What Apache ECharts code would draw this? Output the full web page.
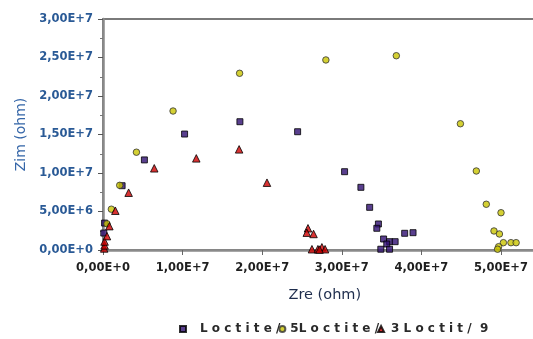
<!DOCTYPE html>
<html>
<head>
<meta charset="utf-8">
<script src="https://cdn.jsdelivr.net/npm/echarts@6/dist/echarts.min.js"></script>
<style>
  html, body { margin: 0; padding: 0; background: #ffffff; }
  #chart { width: 533px; height: 339px; }
</style>
</head>
<body>
<div id="chart"></div>
<script>
// Legend captions, as printed under the plot
const legendNames = ['L o c t i t e /', '5L o c t i t e /', '3 L o c t i t /  9'];

// Nyquist points [Zre, Zim] in ohm
const loctiteA = [
  [1.0e5, 2.2e6], [2.0e5, 3.5e6], [2.4e6, 8.35e6], [5.2e6, 1.17e7],
  [1.025e7, 1.506e7], [1.72e7, 1.666e7], [2.445e7, 1.536e7], [3.035e7, 1.017e7],
  [3.24e7, 8.14e6], [3.35e7, 5.54e6], [3.46e7, 3.38e6], [3.44e7, 2.82e6],
  [3.525e7, 1.43e6], [3.6e7, 1.08e6], [3.67e7, 1.08e6], [3.565e7, 7.8e5],
  [3.49e7, 1.0e5], [3.6e7, 1.0e5], [3.79e7, 2.17e6], [3.895e7, 2.25e6]
];
const loctiteB = [
  [5.0e5, 3.4e6], [1.05e6, 5.3e6], [2.1e6, 8.4e6], [4.2e6, 1.27e7],
  [8.8e6, 1.805e7], [1.716e7, 2.295e7], [2.8e7, 2.468e7], [3.685e7, 2.523e7],
  [4.49e7, 1.64e7], [4.69e7, 1.026e7], [4.815e7, 5.94e6], [5.0e7, 4.84e6],
  [4.912e7, 2.47e6], [4.98e7, 2.08e6], [5.03e7, 9.5e5], [5.125e7, 9.5e5],
  [5.19e7, 9.5e5], [4.97e7, 4.3e5], [4.957e7, 1.0e5]
];
const loctiteC = [
  [1.5e5, 2.0e5], [2.0e5, 6.0e5], [2.0e5, 1.1e6], [5.0e5, 1.8e6],
  [8.0e5, 3.1e6], [1.55e6, 5.1e6], [3.22e6, 7.44e6], [6.44e6, 1.061e7],
  [1.172e7, 1.19e7], [1.71e7, 1.307e7], [2.06e7, 8.74e6], [2.575e7, 2.82e6],
  [2.56e7, 2.25e6], [2.645e7, 2.08e6], [2.625e7, 1.0e5], [2.7e7, 1.0e5],
  [2.75e7, 3.5e5], [2.79e7, 1.0e5], [2.72e7, 5.0e4]
];

// Axis ranges
const xRange = { min: 0, max: 6e7, step: 1e7 };
const yRange = { min: 0, max: 3e7, step: 5e6 };

// "1,00E+7" style labels
function sci(v) {
  if (v === 0) return '0,00E+0';
  const e = Math.floor(Math.log10(v) + 1e-9);
  const m = v / Math.pow(10, e);
  return m.toFixed(2).replace('.', ',') + 'E+' + e;
}

const chart = echarts.init(document.getElementById('chart'));

const labelFont = { fontFamily: 'DejaVu Sans', fontWeight: 'bold', fontSize: 11.5 };

chart.setOption({
  animation: false,
  backgroundColor: '#ffffff',
  grid: {
    left: 103, top: 19, width: 477.6, height: 231,
    show: true, borderColor: '#7a7a7a', borderWidth: 2,
    outerBoundsMode: 'none'
  },
  legend: {
    left: 174, top: 318,
    itemWidth: 6, itemHeight: 6, itemGap: -2,
    textStyle: { fontFamily: 'DejaVu Sans', fontWeight: 'bold', fontSize: 12, color: '#2a2a2a' },
    data: [
      { name: legendNames[0], textStyle: { padding: [0, 0, 0, 9] } },
      { name: legendNames[1] },
      { name: legendNames[2], textStyle: { padding: [0, 0, 0, 2] } }
    ]
  },
  xAxis: {
    type: 'value',
    min: xRange.min, max: xRange.max, interval: xRange.step,
    name: 'Zre (ohm)', nameLocation: 'middle', nameGap: 38,
    nameTextStyle: { fontFamily: 'DejaVu Sans', fontSize: 14.5, color: '#1e2d4d', padding: [0, 34, 0, 0] },
    axisLine: { lineStyle: { color: '#8a8a8a', width: 2.5 } },
    axisTick: { inside: false, length: 5, lineStyle: { color: '#666666', width: 1 } },
    axisLabel: Object.assign({ color: '#1f1f1f', margin: 12, formatter: sci }, labelFont),
    splitLine: { show: false }
  },
  yAxis: {
    type: 'value',
    min: yRange.min, max: yRange.max, interval: yRange.step,
    name: 'Zim (ohm)', nameLocation: 'middle', nameGap: 75,
    nameTextStyle: { fontFamily: 'DejaVu Sans', fontSize: 14, color: '#3566a8' },
    axisLine: { lineStyle: { color: '#8a8a8a', width: 2.5 } },
    axisTick: { inside: false, length: 5, lineStyle: { color: '#555555', width: 1 } },
    minorTick: { show: true, splitNumber: 2, length: 3, lineStyle: { color: '#777777', width: 1 } },
    axisLabel: Object.assign({ color: '#2a5a96', margin: 10, formatter: sci }, labelFont),
    splitLine: { show: false }
  },
  series: [
    {
      name: legendNames[0], type: 'scatter', data: loctiteA,
      symbol: 'rect', symbolSize: 6,
      itemStyle: { color: '#2f0f72', borderColor: '#000000', borderWidth: 1 }
    },
    {
      name: legendNames[1], type: 'scatter', data: loctiteB,
      symbol: 'circle', symbolSize: 6.5,
      itemStyle: { color: '#c9c400', borderColor: '#333333', borderWidth: 1 }
    },
    {
      name: legendNames[2], type: 'scatter', data: loctiteC,
      symbol: 'triangle', symbolSize: 7.5,
      itemStyle: { color: '#d00000', borderColor: '#000000', borderWidth: 1 }
    }
  ]
});
</script>
</body>
</html>
